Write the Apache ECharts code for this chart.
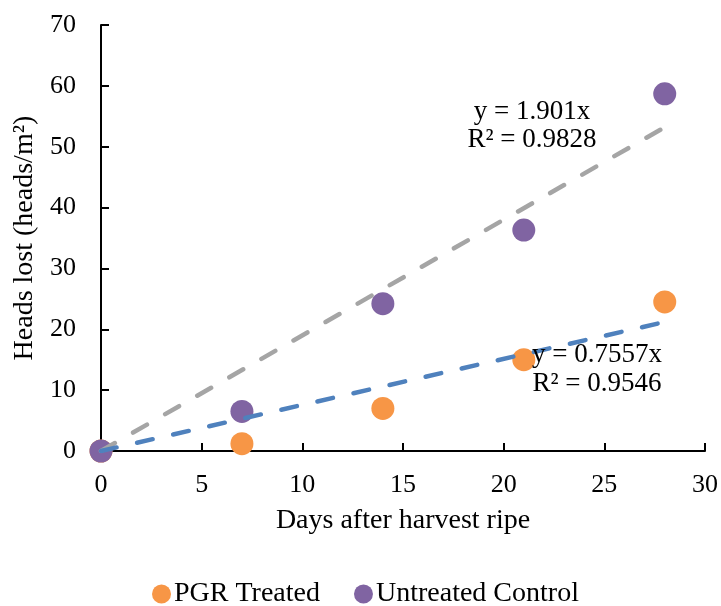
<!DOCTYPE html>
<html>
<head>
<meta charset="utf-8">
<script src="https://cdn.jsdelivr.net/npm/echarts@6/dist/echarts.min.js"></script>
<style>html,body{margin:0;padding:0;background:#fff}#c{width:721px;height:606px}</style>
</head>
<body>
<div id="c"></div>
<script>
var days = [0, 7, 14, 21, 28];
var pgrTreated = [0, 1.2, 7.0, 15.0, 24.5];
var untreated = [0, 6.5, 24.2, 36.3, 58.7];
var trendUntreated = [[0, 0], [28, 53.2]];
var trendPgr = [[0, 0], [28, 21.2]];
var eqUntreated = ['y = 1.901x', 'R² = 0.9828'];
var eqPgr = ['y = 0.7557x', 'R² = 0.9546'];

var FONT = 'Liberation Serif';
var chart = echarts.init(document.getElementById('c'), null, {renderer: 'canvas'});
function pairs(xs, ys) { return xs.map(function (x, i) { return [x, ys[i]]; }); }

chart.setOption({
  animation: false,
  backgroundColor: '#fff',
  textStyle: {fontFamily: FONT},
  grid: {left: 101, right: 16, top: 25, bottom: 155, containLabel: false},
  xAxis: {
    type: 'value', min: 0, max: 30, interval: 5,
    name: 'Days after harvest ripe', nameLocation: 'middle', nameGap: 56,
    nameTextStyle: {fontFamily: FONT, fontSize: 28, color: '#000'},
    axisLine: {show: true, onZero: false, lineStyle: {color: '#000', width: 2}},
    axisTick: {show: true, inside: true, length: 8, lineStyle: {color: '#000', width: 2}},
    axisLabel: {fontFamily: FONT, fontSize: 26, color: '#000', margin: 21},
    splitLine: {show: false}
  },
  yAxis: {
    type: 'value', min: 0, max: 70, interval: 10,
    name: 'Heads lost (heads/m²)', nameLocation: 'middle', nameGap: 62, nameRotate: 90,
    nameTextStyle: {fontFamily: FONT, fontSize: 28, color: '#000'},
    axisLine: {show: true, lineStyle: {color: '#000', width: 2}},
    axisTick: {show: true, inside: true, length: 8, lineStyle: {color: '#000', width: 2}},
    axisLabel: {fontFamily: FONT, fontSize: 26, color: '#000', margin: 25},
    splitLine: {show: false}
  },
  legend: {
    data: ['PGR Treated', 'Untreated Control'],
    left: 152, top: 580, padding: 0,
    icon: 'circle', itemWidth: 19, itemHeight: 19, itemGap: 34,
    textStyle: {fontFamily: FONT, fontSize: 28, color: '#000', padding: [0, 0, 0, -2]}
  },
  series: [
    {name: 'PGR Treated', type: 'scatter', data: pairs(days, pgrTreated), symbolSize: 23,
     itemStyle: {color: '#F79646', opacity: 1}, z: 2},
    {name: 'Untreated Control', type: 'scatter', data: pairs(days, untreated), symbolSize: 23,
     itemStyle: {color: '#8064A2', opacity: 1}, z: 3},
    {name: 'trendU', type: 'line', data: trendUntreated, showSymbol: false, symbol: 'none', silent: true,
     lineStyle: {color: '#A5A5A5', width: 4.5, type: [16, 21], cap: 'round'}, z: 4},
    {name: 'trendP', type: 'line', data: trendPgr, showSymbol: false, symbol: 'none', silent: true,
     lineStyle: {color: '#4F81BD', width: 4.5, type: [16, 21], cap: 'round'}, z: 4}
  ],
  graphic: [
    {type: 'text', z: 10, style: {text: eqUntreated[0], x: 532, y: 112, fill: '#000', font: '27px "Liberation Serif"', align: 'center', verticalAlign: 'middle'}},
    {type: 'text', z: 10, style: {text: eqUntreated[1], x: 532, y: 140, fill: '#000', font: '27px "Liberation Serif"', align: 'center', verticalAlign: 'middle'}},
    {type: 'text', z: 10, style: {text: eqPgr[0], x: 597, y: 355, fill: '#000', font: '27px "Liberation Serif"', align: 'center', verticalAlign: 'middle'}},
    {type: 'text', z: 10, style: {text: eqPgr[1], x: 597, y: 384, fill: '#000', font: '27px "Liberation Serif"', align: 'center', verticalAlign: 'middle'}}
  ]
});
</script>
</body>
</html>
